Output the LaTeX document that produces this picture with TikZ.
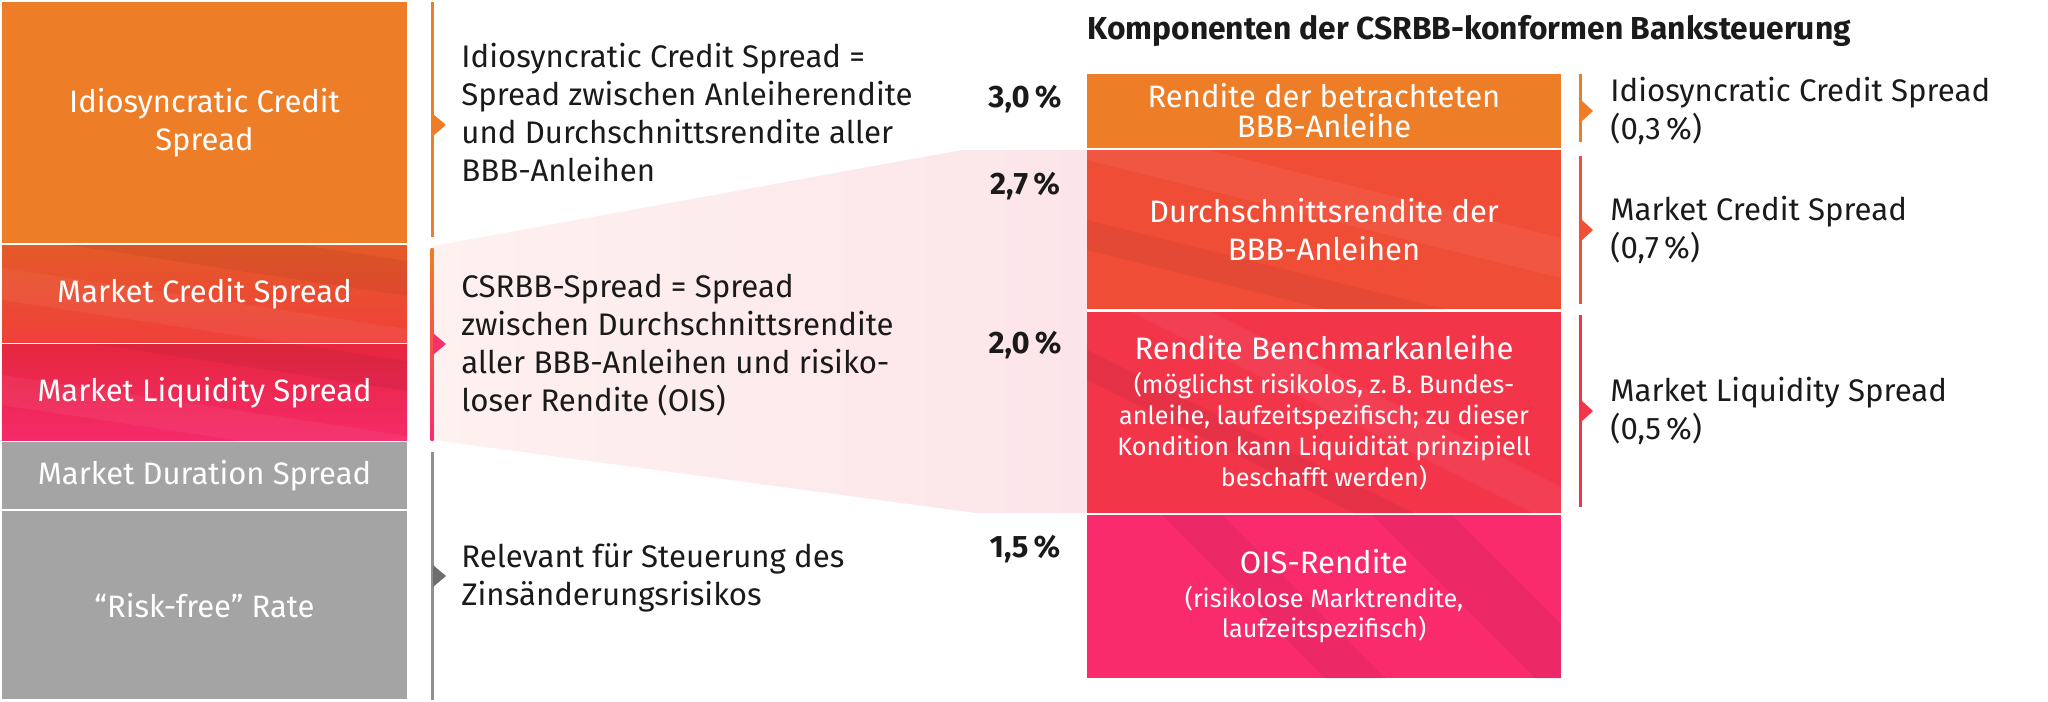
\documentclass[tikz,border=0pt]{standalone}
\usepackage{fontspec}
\setmainfont{Fira Sans}
\usepackage{tikz}

\definecolor{borange}{HTML}{EE7D27}
\definecolor{bredor}{HTML}{F04D37}
\definecolor{bred}{HTML}{F3354A}
\definecolor{bpink}{HTML}{F92B6C}
\definecolor{bgray}{HTML}{A4A4A4}
\definecolor{btext}{HTML}{1A1A1A}
\definecolor{funnelL}{HTML}{FEF1EF}
\definecolor{funnelR}{HTML}{FCE5EA}
\definecolor{mcstop}{HTML}{E45A28}
\definecolor{mcsbot}{HTML}{F0403B}
\definecolor{mlstop}{HTML}{E6273F}
\definecolor{mlsbot}{HTML}{F52A69}
\definecolor{pinkmark}{HTML}{F5336A}
\definecolor{grayline}{HTML}{8F8F8F}
\definecolor{graymark}{HTML}{6E6E6E}
\definecolor{redorline}{HTML}{F05038}

\begin{document}
\begin{tikzpicture}[x=0.5pt,y=-0.5pt,
  boxtext/.style={text=white,align=center,inner sep=0pt,font=\fontsize{15.5}{19}\selectfont},
  sidetext/.style={text=btext,align=left,anchor=base west,inner sep=0pt,font=\fontsize{15.6}{19}\selectfont},
  pcttext/.style={text=btext,anchor=base,inner sep=0pt,font=\bfseries\fontsize{15.5}{19}\selectfont},
  lightband/.style={white,opacity=0.05},
  darkband/.style={black,opacity=0.05}]

\useasboundingbox (0,0) rectangle (2048,701);

% funnel behind the middle text
\shade[left color=funnelL,right color=funnelR] (433,246) -- (962,150) -- (1087,150) -- (1087,513) -- (976,513) -- (433,440) -- cycle;

% left column
\fill[borange] (2,2) rectangle (407,243);
\begin{scope}
\clip (2,245) rectangle (407,342);
\shade[top color=mcstop,bottom color=mcsbot] (2,245) rectangle (407,342);
\fill[darkband] (2,200) -- (407,261) -- (407,296) -- (2,235) -- cycle;
\fill[lightband] (2,268) -- (407,329) -- (407,361) -- (2,300) -- cycle;
\end{scope}
\begin{scope}
\clip (2,344) rectangle (407,440);
\shade[top color=mlstop,bottom color=mlsbot] (2,344) rectangle (407,440);
\fill[darkband] (2,300) -- (407,361) -- (407,391) -- (2,330) -- cycle;
\fill[lightband] (2,375) -- (407,436) -- (407,466) -- (2,405) -- cycle;
\end{scope}
\fill[bgray] (2,442) rectangle (407,509);
\fill[bgray] (2,511) rectangle (407,699);

\node[boxtext] (idio) at (204.5,122.5) {Idiosyncratic Credit\\Spread};
\node[boxtext] (mcs) at (204.5,294) {Market Credit Spread};
\node[boxtext] (mls) at (204.5,393) {Market Liquidity Spread};
\node[boxtext] (mds) at (204.5,476) {Market Duration Spread};
\node[boxtext] (rfr) at (204.5,606) {“Risk-free” Rate};

% brackets of the middle column
\fill[borange] (430.5,2) rectangle (433.5,237);
\fill[borange] (433,114) -- (446,125) -- (433,136) -- cycle;
\shade[top color=borange,bottom color=bpink] (430.5,248) rectangle (433.5,440);
\fill[pinkmark] (433,333) -- (446,344) -- (433,355) -- cycle;
\fill[grayline] (430.5,452) rectangle (433.5,700);
\fill[graymark] (433,565) -- (446,576) -- (433,587) -- cycle;

% base west of a multi-line node = baseline of its last line
\node[sidetext] (idiotxt) at (461,181) {Idiosyncratic Credit Spread =\\Spread zwischen Anleiherendite\\und Durchschnittsrendite aller\\BBB-Anleihen};
\node[sidetext] (csrbbtxt) at (461,411.5) {CSRBB-Spread = Spread\\zwischen Durchschnittsrendite\\aller BBB-Anleihen und risiko-\\loser Rendite (OIS)};
\node[sidetext] (zinstxt) at (461,605.5) {Relevant für Steuerung des\\Zinsänderungsrisikos};

% percentages
\node[pcttext] (p30) at (1025,108) {3,0\,\%};
\node[pcttext] (p27) at (1025,194) {2,7\,\%};
\node[pcttext] (p20) at (1025,353) {2,0\,\%};
\node[pcttext] (p15) at (1025,557) {1,5\,\%};

% right column
\node[text=btext,anchor=base west,inner sep=0pt,font=\bfseries\fontsize{15.9}{19}\selectfont] (title) at (1087,40) {Komponenten der CSRBB-konformen Banksteuerung};

\fill[borange] (1087,74) rectangle (1561,148);
\begin{scope}
\clip (1087,150) rectangle (1561,309);
\fill[bredor] (1087,150) rectangle (1561,309);
\fill[lightband] (1087,120) -- (1561,238) -- (1561,278) -- (1087,160) -- cycle;
\fill[darkband] (1087,220) -- (1561,338) -- (1561,368) -- (1087,250) -- cycle;
\end{scope}
\begin{scope}
\clip (1087,312) rectangle (1561,513);
\fill[bred] (1087,312) rectangle (1561,513);
\fill[lightband] (1087,250) -- (1561,487) -- (1561,527) -- (1087,290) -- cycle;
\fill[darkband] (1087,350) -- (1561,587) -- (1561,617) -- (1087,380) -- cycle;
\end{scope}
\begin{scope}
\clip (1087,515) rectangle (1561,678);
\fill[bpink] (1087,515) rectangle (1561,678);
\fill[darkband] (1087,150) -- (1561,624) -- (1561,704) -- (1087,230) -- cycle;
\fill[darkband] (1087,380) -- (1561,854) -- (1561,914) -- (1087,440) -- cycle;
\end{scope}

\node[boxtext,font=\fontsize{15.5}{15}\selectfont] (bbb) at (1324,111) {Rendite der betrachteten\\BBB-Anleihe};
\node[boxtext] (avg) at (1324,229.5) {Durchschnittsrendite der\\BBB-Anleihen};
\node[boxtext,font=\fontsize{12.6}{15.5}\selectfont] (bench) at (1324,412.5) {{\fontsize{15.5}{19}\selectfont Rendite Benchmarkanleihe}\\[1.5pt](möglichst risikolos, z.\,B. Bundes-\\anleihe, laufzeitspezifisch; zu dieser\\Kondition kann Liquidität prinzipiell\\beschafft werden)};
\node[boxtext,font=\fontsize{12.6}{15}\selectfont] (ois) at (1324,596.5) {{\fontsize{15.5}{19}\selectfont OIS-Rendite}\\[2pt](risikolose Marktrendite,\\laufzeitspezifisch)};

% brackets of the right column
\fill[borange] (1578.5,74) rectangle (1581.5,142);
\fill[borange] (1581,100) -- (1593,111) -- (1581,122) -- cycle;
\fill[redorline] (1578.5,156) rectangle (1581.5,304);
\fill[redorline] (1581,219) -- (1593,230) -- (1581,241) -- cycle;
\fill[bred] (1578.5,315) rectangle (1581.5,507);
\fill[bred] (1581,400) -- (1593,411) -- (1581,422) -- cycle;

\node[sidetext] (idiospr) at (1610,140) {Idiosyncratic Credit Spread\\(0,3\,\%)};
\node[sidetext] (mcsspr) at (1610,258) {Market Credit Spread\\(0,7\,\%)};
\node[sidetext] (mlsspr) at (1610,439) {Market Liquidity Spread\\(0,5\,\%)};
\end{tikzpicture}
\end{document}
